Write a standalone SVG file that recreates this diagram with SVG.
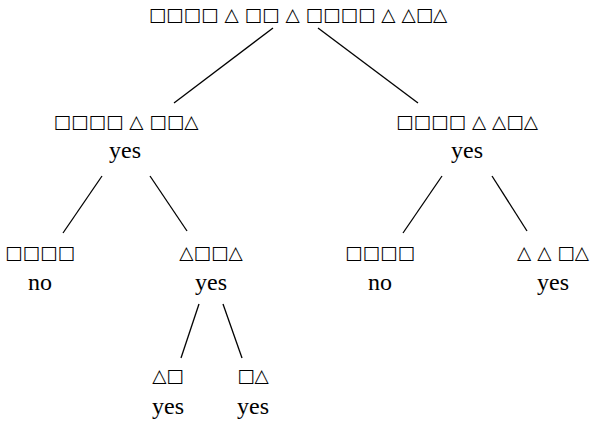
<svg xmlns="http://www.w3.org/2000/svg" width="594" height="426" viewBox="0 0 594 426">
<style>
.sym{font-family:"DejaVu Sans",sans-serif;font-size:18.5px;fill:#000;text-anchor:middle}
.val{font-family:"Liberation Serif",serif;font-size:24px;fill:#000;text-anchor:middle}
.edge{stroke:#000;stroke-width:1.3;fill:none}
</style>
<rect width="594" height="426" fill="#fff"/>
<g id="edges">
<line class="edge" x1="273" y1="28" x2="174" y2="103"/>
<line class="edge" x1="318" y1="28" x2="418" y2="103"/>
<line class="edge" x1="102" y1="176" x2="63" y2="233"/>
<line class="edge" x1="150" y1="176" x2="187" y2="231"/>
<line class="edge" x1="442" y1="176" x2="403" y2="233"/>
<line class="edge" x1="492" y1="176" x2="527" y2="231"/>
<line class="edge" x1="199" y1="304" x2="181" y2="358"/>
<line class="edge" x1="223" y1="304" x2="242" y2="358"/>
</g>
<g id="root"><text class="sym" x="298" y="21">□□□□ △ □□ △ □□□□ △ △□△</text></g>
<g id="n1"><text class="sym" x="126" y="128">□□□□ △ □□△</text><text class="val" x="125" y="158">yes</text></g>
<g id="n2"><text class="sym" x="467" y="128">□□□□ △ △□△</text><text class="val" x="467" y="158">yes</text></g>
<g id="n3"><text class="sym" x="40" y="259">□□□□</text><text class="val" x="40" y="290">no</text></g>
<g id="n4"><text class="sym" x="211" y="259">△□□△</text><text class="val" x="211" y="290">yes</text></g>
<g id="n5"><text class="sym" x="380" y="259">□□□□</text><text class="val" x="380" y="290">no</text></g>
<g id="n6"><text class="sym" x="553" y="259">△ △ □△</text><text class="val" x="553" y="290">yes</text></g>
<g id="n7"><text class="sym" x="168" y="382">△□</text><text class="val" x="168" y="414">yes</text></g>
<g id="n8"><text class="sym" x="253" y="382">□△</text><text class="val" x="253" y="414">yes</text></g>
</svg>
